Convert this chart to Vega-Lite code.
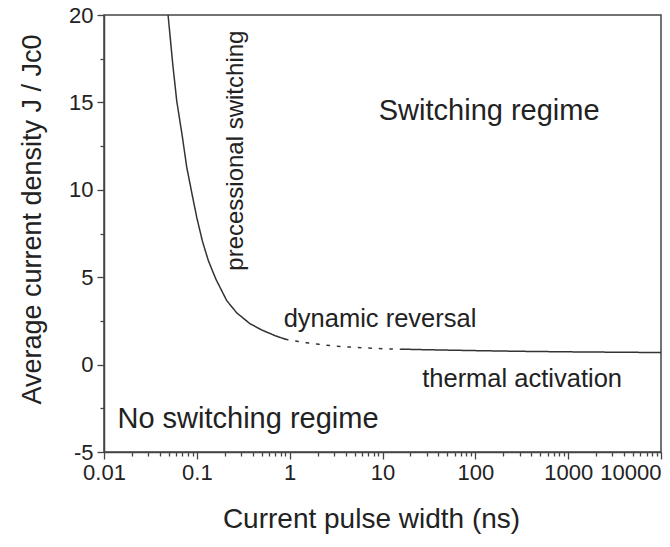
{
  "$schema": "https://vega.github.io/schema/vega-lite/v6.json",
  "width": 557,
  "height": 437,
  "autosize": "none",
  "padding": {"left": 104, "top": 15, "right": 9, "bottom": 95},
  "background": "white",
  "config": {
    "font": "Arial",
    "view": {"stroke": "#444", "strokeWidth": 1.5},
    "text": {"font": "Arial"},
    "axis": {
      "grid": false,
      "domainColor": "#444",
      "domainWidth": 1.5,
      "tickColor": "#444",
      "tickWidth": 1.3,
      "labelColor": "#222",
      "labelFont": "Arial",
      "labelFontSize": 22,
      "titleColor": "#222",
      "titleFont": "Arial",
      "titleFontSize": 28,
      "titleFontWeight": "normal",
      "labelOverlap": false
    }
  },
  "datasets": {
    "curve": [
      {"t": 0.049, "J": 20, "seg": "precessional"},
      {"t": 0.055, "J": 17.2, "seg": "precessional"},
      {"t": 0.0607, "J": 15.1, "seg": "precessional"},
      {"t": 0.07, "J": 13.0, "seg": "precessional"},
      {"t": 0.0778, "J": 11.3, "seg": "precessional"},
      {"t": 0.09, "J": 9.6, "seg": "precessional"},
      {"t": 0.1, "J": 8.4, "seg": "precessional"},
      {"t": 0.115, "J": 7.05, "seg": "precessional"},
      {"t": 0.133, "J": 5.95, "seg": "precessional"},
      {"t": 0.16, "J": 4.9, "seg": "precessional"},
      {"t": 0.21, "J": 3.66, "seg": "precessional"},
      {"t": 0.27, "J": 2.95, "seg": "precessional"},
      {"t": 0.374, "J": 2.34, "seg": "precessional"},
      {"t": 0.5, "J": 1.98, "seg": "precessional"},
      {"t": 0.7, "J": 1.65, "seg": "precessional"},
      {"t": 0.9, "J": 1.45, "seg": "precessional"},
      {"t": 0.9, "J": 1.45, "seg": "dynamic"},
      {"t": 1.5, "J": 1.25, "seg": "dynamic"},
      {"t": 3, "J": 1.06, "seg": "dynamic"},
      {"t": 6, "J": 0.96, "seg": "dynamic"},
      {"t": 10, "J": 0.91, "seg": "dynamic"},
      {"t": 16.7, "J": 0.88, "seg": "dynamic"},
      {"t": 16.7, "J": 0.88, "seg": "thermal"},
      {"t": 30, "J": 0.85, "seg": "thermal"},
      {"t": 100, "J": 0.8, "seg": "thermal"},
      {"t": 300, "J": 0.76, "seg": "thermal"},
      {"t": 1000, "J": 0.73, "seg": "thermal"},
      {"t": 3000, "J": 0.71, "seg": "thermal"},
      {"t": 10000, "J": 0.69, "seg": "thermal"}
    ],
    "notes": [
      {"t": 141, "J": 14.5, "label": "Switching regime", "kind": "region"},
      {"t": 0.356, "J": -3.1, "label": "No switching regime", "kind": "region"},
      {"t": 9.4, "J": 2.63, "label": "dynamic reversal", "kind": "small"},
      {"t": 319, "J": -0.8, "label": "thermal activation", "kind": "small"},
      {"t": 0.264, "J": 12.24, "label": "precessional switching", "kind": "vertical"}
    ]
  },
  "layer": [
    {
      "data": {"name": "curve"},
      "mark": {"type": "line", "color": "#333", "strokeWidth": 1.5, "clip": true, "strokeCap": "round"},
      "encoding": {
        "x": {
          "field": "t",
          "type": "quantitative",
          "scale": {"type": "log", "domain": [0.01, 10000]},
          "axis": {
            "title": "Current pulse width (ns)",
            "titlePadding": 22,
            "titleX": 267,
            "values": [0.01, 0.02, 0.03, 0.04, 0.05, 0.06, 0.07, 0.08, 0.09, 0.1, 0.2, 0.3, 0.4, 0.5, 0.6, 0.7, 0.8, 0.9, 1, 2, 3, 4, 5, 6, 7, 8, 9, 10, 20, 30, 40, 50, 60, 70, 80, 90, 100, 200, 300, 400, 500, 600, 700, 800, 900, 1000, 2000, 3000, 4000, 5000, 6000, 7000, 8000, 9000, 10000],
            "labelExpr": "indexof([0.01, 0.1, 1, 10, 100, 1000, 10000], datum.value) >= 0 ? toString(datum.value) : ''",
            "labelFlush": false,
            "labelAlign": {"condition": {"test": "datum.value == 10000", "value": "right"}, "value": "center"},
            "labelPadding": 3,
            "tickSize": {"condition": {"test": "indexof([0.01, 0.1, 1, 10, 100, 1000, 10000], datum.value) >= 0", "value": 7}, "value": 4}
          }
        },
        "y": {
          "field": "J",
          "type": "quantitative",
          "scale": {"domain": [-5, 20], "nice": false, "zero": false},
          "axis": {
            "title": "Average current density J / Jc0",
            "titlePadding": 22,
            "titleY": 204,
            "titleFontSize": 27,
            "values": [-5, -2.5, 0, 2.5, 5, 7.5, 10, 12.5, 15, 17.5, 20],
            "labelExpr": "datum.value % 5 == 0 ? toString(datum.value) : ''",
            "labelPadding": 4,
            "labelFlush": false,
            "tickSize": {"condition": {"test": "datum.value % 5 == 0", "value": 7}, "value": 4}
          }
        },
        "strokeDash": {
          "field": "seg",
          "type": "nominal",
          "scale": {"domain": ["precessional", "dynamic", "thermal"], "range": [[1, 0], [2.5, 8], [1, 0]]},
          "legend": null
        }
      }
    },
    {
      "data": {"name": "notes"},
      "transform": [{"filter": "datum.kind == 'region'"}],
      "mark": {"type": "text", "font": "Arial", "fontSize": 29, "color": "#222", "align": "center", "baseline": "middle"},
      "encoding": {
        "x": {"field": "t", "type": "quantitative"},
        "y": {"field": "J", "type": "quantitative"},
        "text": {"field": "label"}
      }
    },
    {
      "data": {"name": "notes"},
      "transform": [{"filter": "datum.kind == 'small'"}],
      "mark": {"type": "text", "font": "Arial", "fontSize": 25.5, "color": "#222", "align": "center", "baseline": "middle"},
      "encoding": {
        "x": {"field": "t", "type": "quantitative"},
        "y": {"field": "J", "type": "quantitative"},
        "text": {"field": "label"}
      }
    },
    {
      "data": {"name": "notes"},
      "transform": [{"filter": "datum.kind == 'vertical'"}],
      "mark": {"type": "text", "font": "Arial", "fontSize": 24, "color": "#222", "align": "center", "baseline": "middle", "angle": 270},
      "encoding": {
        "x": {"field": "t", "type": "quantitative"},
        "y": {"field": "J", "type": "quantitative"},
        "text": {"field": "label"}
      }
    }
  ]
}
